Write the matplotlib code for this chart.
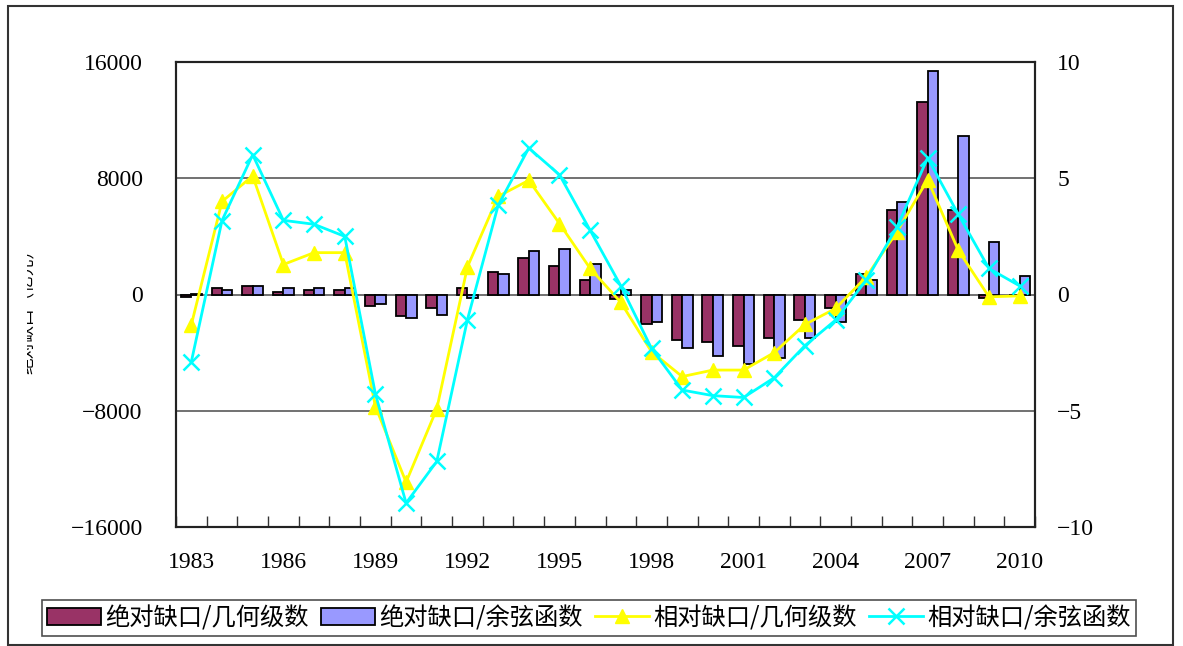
import numpy as np
import matplotlib
matplotlib.use('Agg')
import matplotlib.pyplot as plt
from matplotlib.patches import Rectangle
from matplotlib.transforms import Bbox, TransformedBbox

plt.rcParams['font.family'] = ['Noto Sans CJK SC', 'DejaVu Sans']

# Data
years = list(range(1983, 2011))
abs_geo = [-150, 480, 580, 200, 280, 280, -780, -1490, -900, 440,
           1540, 2500, 1950, 990, -300, -2060, -3130, -3280, -3560, -2990,
           -1780, -960, 1420, 5820, 13230, 5820, -230, -50]
abs_cos = [30, 290, 580, 420, 460, 480, -620, -1620, -1420, -250,
           1420, 3020, 3160, 2090, 300, -1910, -3680, -4250, -4780, -4400,
           -2990, -1880, 1030, 6370, 15410, 10900, 3620, 1280]
rel_geo = [-1.3, 4.0, 5.1, 1.29, 1.8, 1.8, -4.82, -8.07, -4.92, 1.19,
           4.22, 4.91, 3.05, 1.12, -0.34, -2.46, -3.53, -3.25, -3.25, -2.5,
           -1.29, -0.6, 0.76, 2.69, 4.94, 1.9, -0.1, -0.06]
rel_cos = [-2.89, 3.18, 6.01, 3.19, 3.02, 2.5, -4.28, -8.97, -7.18, -1.08,
           3.83, 6.3, 5.15, 2.76, 0.37, -2.32, -4.11, -4.35, -4.43, -3.58,
           -2.2, -1.1, 0.62, 2.9, 5.87, 3.45, 1.12, 0.37]
left_ticks = [-16000, -8000, 0, 8000, 16000]
right_ticks = [-10, -5, 0, 5, 10]

MAROON = '#993366'
LILAC = '#9999FF'
YELLOW = '#FFFF00'
CYAN = '#00FFFF'
NUM_FONT = 'Liberation Serif'
NUM_SIZE = 17

W, H = 1183, 646
fig = plt.figure(figsize=(W / 100, H / 100), dpi=100, facecolor='white')

# outer chart frame
fig.patches.append(Rectangle((8 / W, 1 / H), 1165 / W, 639 / H, transform=fig.transFigure,
                             fill=False, edgecolor='#333333', linewidth=1.5))

ax = fig.add_axes([176 / W, 1 - 527 / H, (1035 - 176) / W, (527 - 62) / H])
x = np.arange(len(years))
bw = 0.34
ax.bar(x - bw / 2, abs_geo, bw, color=MAROON, edgecolor='black', linewidth=1.3,
       label='绝对缺口/几何级数', zorder=3)
ax.bar(x + bw / 2, abs_cos, bw, color=LILAC, edgecolor='black', linewidth=1.3,
       label='绝对缺口/余弦函数', zorder=3)
ax.set_xlim(-0.5, len(years) - 0.5)
ax.set_ylim(-16000, 16000)
ax.set_yticks(left_ticks)
ax.set_yticklabels([f'{v}'.replace('-', '\u2212') for v in left_ticks],
                   fontfamily=NUM_FONT, fontsize=NUM_SIZE)
ax.tick_params(axis='y', length=0, pad=24)
for v in [-8000, 0, 8000]:
    ax.axhline(v, color='#666666', linewidth=1.3, zorder=1)

# category boundary ticks (inward) and year labels every 3 years
ax.set_xticks(np.arange(len(years) + 1) - 0.5)
ax.set_xticklabels([])
ax.tick_params(axis='x', which='major', direction='in', length=8, width=1, color='#333333')
lab_idx = list(range(0, len(years), 3))
ax.set_xticks(lab_idx, minor=True)
ax.set_xticklabels([str(years[i]) for i in lab_idx], minor=True,
                   fontfamily=NUM_FONT, fontsize=NUM_SIZE)
ax.tick_params(axis='x', which='minor', length=0, pad=18)
for s in ax.spines.values():
    s.set_linewidth(1.5)
    s.set_color('#222222')

ax2 = ax.twinx()
ax2.plot(x, rel_geo, color=YELLOW, linewidth=2, marker='^', markersize=10,
         label='相对缺口/几何级数', zorder=4)
ax2.plot(x, rel_cos, color=CYAN, linewidth=2, marker='x', markersize=11,
         markeredgewidth=1.8, label='相对缺口/余弦函数', zorder=5)
ax2.set_ylim(-10, 10)
ax2.set_yticks(right_ticks)
ax2.set_yticklabels([f'{v}'.replace('-', '\u2212') for v in right_ticks],
                    fontfamily=NUM_FONT, fontsize=NUM_SIZE)
ax2.tick_params(axis='y', length=0, pad=16)
for s in ax2.spines.values():
    s.set_linewidth(1.5)
    s.set_color('#222222')

# partly hidden left axis title
ylab = fig.text(27 / W, 1 - 308 / H, '绝对缺口（亿元）', rotation=90, fontsize=12,
                ha='center', va='center', color='black')
ylab.set_clip_box(TransformedBbox(Bbox([[27 / W, 0], [40 / W, 1]]), fig.transFigure))
ylab.set_clip_on(True)

h1, l1 = ax.get_legend_handles_labels()
h2, l2 = ax2.get_legend_handles_labels()
leg = fig.legend(h1 + h2, l1 + l2, ncol=4, loc='center',
                 bbox_to_anchor=(589 / W, 1 - 618 / H), fontsize=17.5,
                 frameon=True, fancybox=False, numpoints=1,
                 handlelength=2.2, handletextpad=0.2, columnspacing=0.5,
                 borderpad=0.2, borderaxespad=0)
leg.get_frame().set_edgecolor('#222222')
leg.get_frame().set_linewidth(1.2)

fig.savefig('out.png', dpi=100, facecolor='white')
